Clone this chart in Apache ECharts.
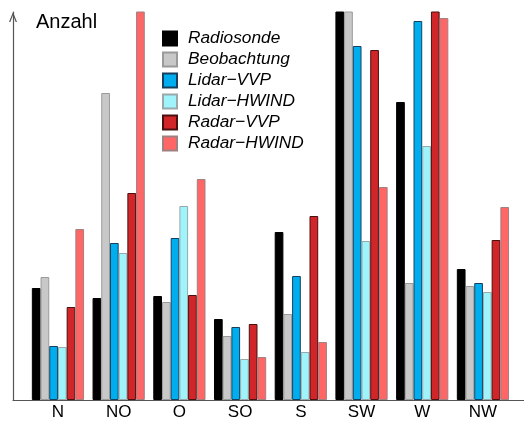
<!DOCTYPE html>
<html><head><meta charset="utf-8">
<script src="https://cdn.jsdelivr.net/npm/echarts@6/dist/echarts.min.js"></script>
<style>html,body{margin:0;padding:0;background:#fff}#c{width:524px;height:421px}</style>
</head><body><div id="c"></div>
<script>
const categories = ['N', 'NO', 'O', 'SO', 'S', 'SW', 'W', 'NW'];
const seriesNames = ['Radiosonde', 'Beobachtung', 'Lidar\u2212VVP', 'Lidar\u2212HWIND', 'Radar\u2212VVP', 'Radar\u2212HWIND'];
const radiosonde = [112, 102, 104, 81, 168, 420, 298, 131];
const beobachtung = [123, 307, 98, 64, 86, 420, 117, 114];
const lidarVVP = [54, 157, 162, 73, 124, 354, 379, 117];
const lidarHWIND = [53, 147, 194, 41, 48, 159, 254, 108];
const radarVVP = [93, 207, 105, 76, 184, 350, 420, 160];
const radarHWIND = [171, 420, 221, 43, 58, 213, 382, 193];
const yMax = 388;

const values = [radiosonde, beobachtung, lidarVVP, lidarHWIND, radarVVP, radarHWIND];
const fills = ['#000000', '#c8c8c8', '#00aeef', '#9ff3fb', '#d0262a', '#ff6666'];
const borders = ['#000000', '#9a9a9a', '#16405e', '#9aa8aa', '#4a1010', '#a08080'];
const FONT = 'Liberation Sans, Arial, sans-serif';

const chart = echarts.init(document.getElementById('c'), null, {renderer: 'canvas'});
chart.setOption({
  animation: false,
  backgroundColor: '#fff',
  title: {text: 'Anzahl', left: 36, top: 12, padding: 0,
    textStyle: {fontSize: 20, fontWeight: 'normal', color: '#000', fontFamily: FONT}},
  legend: {
    orient: 'vertical', left: 157, top: 23, itemWidth: 14, itemHeight: 14, itemGap: 0,
    icon: 'rect', data: seriesNames,
    textStyle: {fontStyle: 'italic', fontSize: 17.3, lineHeight: 21, color: '#000', fontFamily: FONT, padding: [0, 0, 0, 6]}
  },
  grid: [
    {left: 27.6, right: 10.7, top: 12, bottom: 21},
    {left: 13, right: 0, top: 12, bottom: 21}
  ],
  xAxis: [
    {type: 'category', gridIndex: 0, data: categories,
      axisLine: {show: false}, axisTick: {show: false},
      axisLabel: {fontSize: 17, color: '#000', margin: 4, fontFamily: FONT}},
    {type: 'category', gridIndex: 1, data: categories,
      axisLine: {show: true, lineStyle: {color: '#555', width: 1.2}},
      axisTick: {show: false}, axisLabel: {show: false}}
  ],
  yAxis: [
    {type: 'value', gridIndex: 0, min: 0, max: yMax, show: false, splitLine: {show: false}},
    {type: 'value', gridIndex: 1, min: 0, max: yMax,
      axisLine: {show: true, lineStyle: {color: '#555', width: 1.2},
        symbol: ['none', 'path://M0,10 L4,0 L8,10 L6.7,10 L4,3.2 L1.3,10 Z'], symbolSize: [8, 10], symbolOffset: [0, -5]},
      axisTick: {show: false}, axisLabel: {show: false}, splitLine: {show: false}}
  ],
  series: seriesNames.map((name, i) => ({
    name: name, type: 'bar', xAxisIndex: 0, yAxisIndex: 0, data: values[i],
    barGap: '0%', barCategoryGap: '14%', clip: true,
    itemStyle: {color: fills[i], borderColor: borders[i], borderWidth: 1}
  }))
});
</script></body></html>
